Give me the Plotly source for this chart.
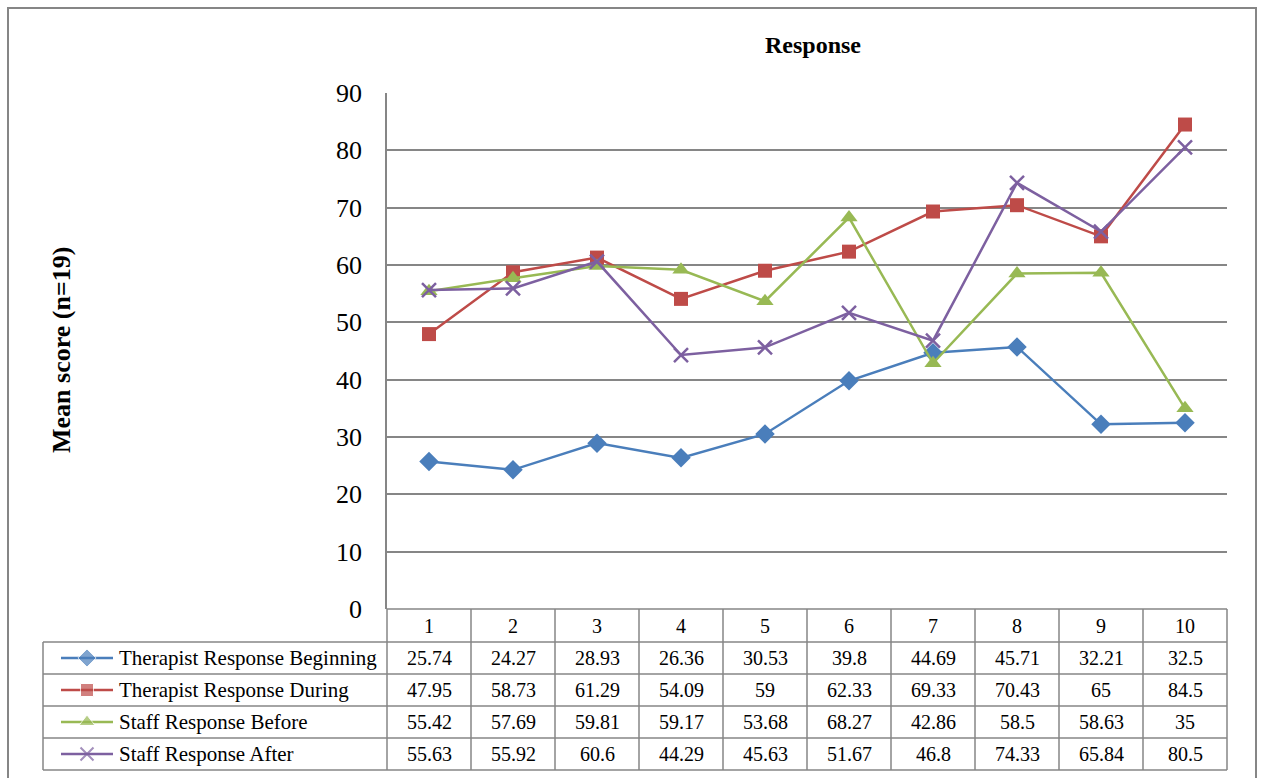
import plotly.graph_objects as go

categories = ["1", "2", "3", "4", "5", "6", "7", "8", "9", "10"]
series_names = ["Therapist Response Beginning", "Therapist Response During",
                "Staff Response Before", "Staff Response After"]
therapist_beginning = [25.74, 24.27, 28.93, 26.36, 30.53, 39.8, 44.69, 45.71, 32.21, 32.5]
therapist_during = [47.95, 58.73, 61.29, 54.09, 59, 62.33, 69.33, 70.43, 65, 84.5]
staff_before = [55.42, 57.69, 59.81, 59.17, 53.68, 68.27, 42.86, 58.5, 58.63, 35]
staff_after = [55.63, 55.92, 60.6, 44.29, 45.63, 51.67, 46.8, 74.33, 65.84, 80.5]
y_ticks = [0, 10, 20, 30, 40, 50, 60, 70, 80, 90]

W, H = 1262, 778
FONT = "Liberation Serif, Times New Roman, serif"
GRID = "#868686"


def px(x):
    return x / W


def py(y):
    return 1 - y / H


# plot area in pixels
left, right, top, bottom = 387, 1227, 93, 609
cell_w = (right - left) / len(categories)

colors = ["#4A7EBB", "#BE4B48", "#98B954", "#7D60A0"]
symbols = ["diamond", "square", "triangle-up", "x-thin"]
sizes = [15, 14, 15, 14]
all_series = [therapist_beginning, therapist_during, staff_before, staff_after]

fig = go.Figure()

for name, vals, c, s, sz in zip(series_names, all_series, colors, symbols, sizes):
    marker = dict(symbol=s, size=sz, color=c)
    if s == "x-thin":
        marker["line"] = dict(color=c, width=2.5)
    fig.add_trace(go.Scatter(
        x=list(range(1, len(categories) + 1)), y=vals, mode="lines+markers",
        name=name, line=dict(color=c, width=2.5), marker=marker,
        showlegend=False, cliponaxis=False
    ))

shapes = []
annotations = []


def label(x, y, text, size, bold=False, xanchor="center", angle=0):
    annotations.append(dict(
        x=px(x), y=py(y), xref="paper", yref="paper", xanchor=xanchor, yanchor="middle",
        text=f"<b>{text}</b>" if bold else text, showarrow=False, textangle=angle,
        font=dict(family=FONT, size=size, color="black")))


def hline(x0, x1, y):
    shapes.append(dict(type="line", xref="paper", yref="paper", x0=px(x0), x1=px(x1),
                       y0=py(y), y1=py(y), line=dict(color=GRID, width=1.5)))


def vline(x, y0, y1):
    shapes.append(dict(type="line", xref="paper", yref="paper", x0=px(x), x1=px(x),
                       y0=py(y0), y1=py(y1), line=dict(color=GRID, width=1.5)))


# outer chart border
shapes.append(dict(type="rect", xref="paper", yref="paper",
                   x0=px(8), x1=px(1256), y0=py(800), y1=py(8),
                   line=dict(color=GRID, width=2)))

# data table grid
rows_y = [642, 674, 706, 738, 770]
hline(left, right, bottom)
for ry in rows_y:
    hline(43, right, ry)
for k in range(len(categories) + 1):
    vline(left + k * cell_w, bottom, 770)
vline(43, 642, 770)

# header numbers
for i, cat in enumerate(categories):
    label(left + (i + 0.5) * cell_w, 626, cat, 20)

# table values + legend keys
for r, (name, vals, c, s, sz) in enumerate(zip(series_names, all_series, colors, symbols, sizes)):
    cy = rows_y[r] + 16
    for i, v in enumerate(vals):
        label(left + (i + 0.5) * cell_w, cy, f"{v:g}", 20)
    label(117, cy, name, 21, xanchor="left")
    marker = dict(symbol=s, color=c, size=[0, sz - 1, 0])
    if s == "x-thin":
        marker["line"] = dict(color=c, width=2)
    fig.add_trace(go.Scatter(
        x=[px(61), px(87), px(113)], y=[py(cy)] * 3, xaxis="x2", yaxis="y2",
        mode="lines+markers", line=dict(color=c, width=2.5),
        marker=marker, showlegend=False, hoverinfo="skip", cliponaxis=False
    ))

# title and y-axis title
label(813, 45, "Response", 24, bold=True)
label(61, 350, "Mean score (n=19)", 26, bold=True, angle=-90)

fig.update_layout(
    width=W, height=H, autosize=False,
    margin=dict(l=0, r=0, t=0, b=0, pad=0, autoexpand=False),
    plot_bgcolor="rgba(0,0,0,0)", paper_bgcolor="white",
    shapes=shapes, annotations=annotations,
    xaxis=dict(domain=[px(left), px(right)], range=[0.5, len(categories) + 0.5],
               showticklabels=False, showgrid=False, zeroline=False, ticks=""),
    yaxis=dict(domain=[py(bottom), py(top)], range=[0, 90], tickvals=y_ticks,
               showgrid=True, gridcolor=GRID, gridwidth=1.5, zeroline=False,
               showline=True, linecolor=GRID, linewidth=1.5, ticks="",
               ticklabelstandoff=18, automargin=False,
               tickfont=dict(family=FONT, size=26, color="black")),
    xaxis2=dict(domain=[0, 1], range=[0, 1], visible=False, fixedrange=True, anchor="y2"),
    yaxis2=dict(domain=[0, 1], range=[0, 1], visible=False, fixedrange=True, anchor="x2"),
    hovermode="closest",
)

fig.write_html(
    "out.html",
    config={"responsive": False, "displayModeBar": False},
    post_script=(
        "document.body.style.margin='0';"
        "document.body.style.overflow='hidden';"
        "var gd=document.getElementById('{plot_id}');"
        "gd.style.position='fixed';gd.style.top='0';gd.style.left='0';"
    ),
)
